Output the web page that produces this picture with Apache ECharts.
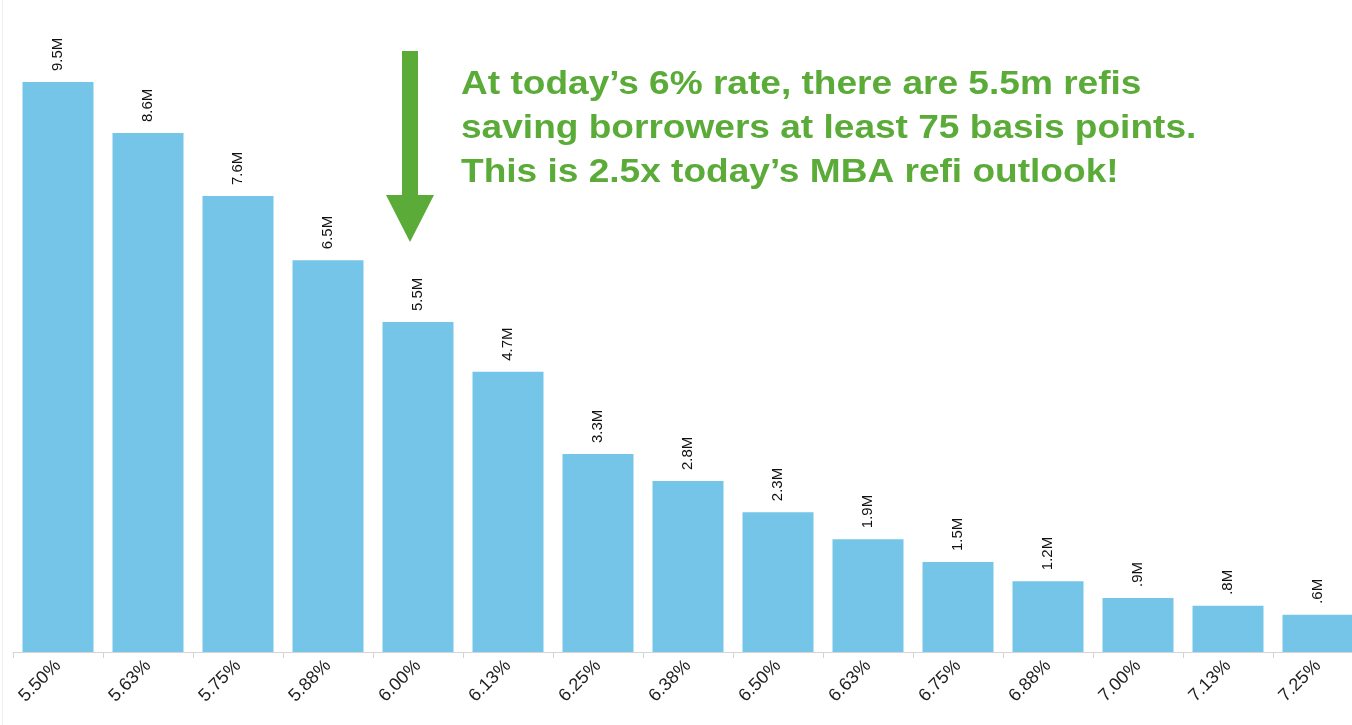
<!DOCTYPE html>
<html>
<head>
<meta charset="utf-8">
<script src="https://cdn.jsdelivr.net/npm/echarts@6/dist/echarts.min.js"></script>
<style>
html,body{margin:0;padding:0;background:#fff;overflow:hidden;}
#chart{width:1400px;height:725px;}
</style>
</head>
<body>
<div id="chart"></div>
<script>
const categories = ["5.50%","5.63%","5.75%","5.88%","6.00%","6.13%","6.25%","6.38%","6.50%","6.63%","6.75%","6.88%","7.00%","7.13%","7.25%"];
const refis = [9.5, 8.65, 7.6, 6.53, 5.5, 4.67, 3.3, 2.85, 2.33, 1.88, 1.5, 1.18, 0.9, 0.77, 0.62];
const valueLabels = ["9.5M","8.6M","7.6M","6.5M","5.5M","4.7M","3.3M","2.8M","2.3M","1.9M","1.5M","1.2M",".9M",".8M",".6M"];
const noteLines = [
  "At today\u2019s 6% rate, there are 5.5m refis",
  "saving borrowers at least 75 basis points.",
  "This is 2.5x today\u2019s MBA refi outlook!"
];

const chart = echarts.init(document.getElementById('chart'));
const green = '#5aab38';
chart.setOption({
  animation: false,
  grid: {left: 13, top: 52, width: 1350, height: 600, containLabel: false},
  xAxis: {
    type: 'category',
    data: categories,
    boundaryGap: true,
    axisLine: {lineStyle: {color: '#d4d4d4', width: 1}},
    axisTick: {show: true, length: 6, lineStyle: {color: '#d4d4d4'}},
    axisLabel: {rotate: 45, fontFamily: 'Liberation Sans, Arial, sans-serif', fontSize: 18, color: '#222', margin: 11}
  },
  yAxis: {
    type: 'value', min: 0, max: 10, show: false,
    splitLine: {show: false}
  },
  series: [{
    type: 'bar',
    data: refis,
    barWidth: 71,
    itemStyle: {color: '#74c5e8'},
    label: {
      show: true,
      position: 'top',
      rotate: 90,
      align: 'left',
      verticalAlign: 'middle',
      distance: 11,
      fontFamily: 'Liberation Sans, Arial, sans-serif',
      fontSize: 15,
      color: '#111',
      formatter: p => valueLabels[p.dataIndex]
    }
  }],
  graphic: [
    {type: 'rect', shape: {x: 402, y: 51, width: 16, height: 145}, style: {fill: green}},
    {type: 'polygon', shape: {points: [[386, 195], [434, 195], [410, 242]]}, style: {fill: green}},
    {type: 'line', shape: {x1: 2.5, y1: 0, x2: 2.5, y2: 725}, style: {stroke: '#eeeeea', lineWidth: 1}},
    {
      type: 'text', x: 461, y: 63, scaleX: 1.09,
      style: {
        text: noteLines.join('\n'),
        font: 'bold 34px "Liberation Sans", Arial, sans-serif',
        fill: green,
        lineHeight: 44
      }
    }
  ]
});
</script>
</body>
</html>
